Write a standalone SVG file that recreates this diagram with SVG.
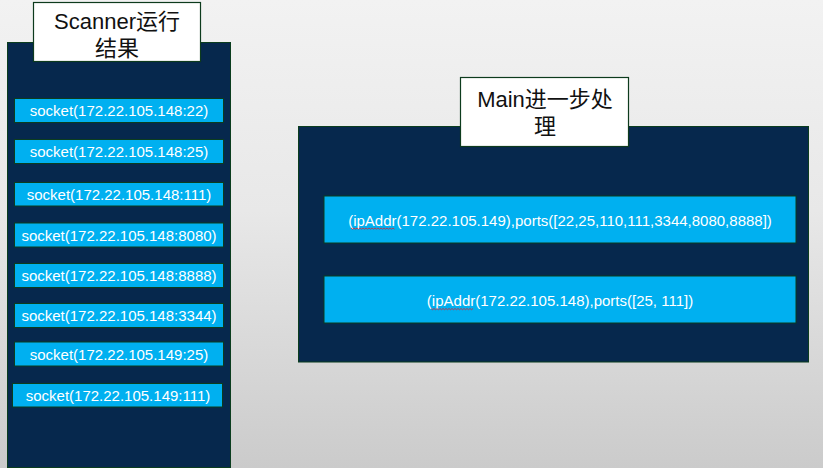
<svg xmlns="http://www.w3.org/2000/svg" width="823" height="468" viewBox="0 0 823 468">
<defs>
<linearGradient id="bg" x1="0" y1="0" x2="0" y2="1">
<stop offset="0" stop-color="#f2f2f2"/>
<stop offset="0.45" stop-color="#e8e8e8"/>
<stop offset="1" stop-color="#cbcbcb"/>
</linearGradient>
<style>
.panel{fill:#06284d;stroke:#0b3d1e;stroke-width:1}
.title{fill:#ffffff;stroke:#0d3b1d;stroke-width:1.2}
.item{fill:#00b0f0;stroke:#0b3d1e;stroke-width:1}
.t{font-family:"Liberation Sans","Noto Sans CJK SC",sans-serif;font-size:22px;fill:#111111;text-anchor:middle}
.s{font-family:"Liberation Sans",Arial,sans-serif;font-size:15px;fill:#ffffff;text-anchor:middle}
.sq{fill:none;stroke:#e0202a;stroke-width:0.8}
</style>
</defs>
<rect x="0" y="0" width="823" height="468" fill="url(#bg)"/>
<g id="scanner-panel">
<rect class="panel" x="7.5" y="42.5" width="223" height="425"/>
</g>
<g id="scanner-title">
<rect class="title" x="33.5" y="2.5" width="167" height="59"/>
<text class="t" x="117" y="28.5">Scanner运行</text>
<text class="t" x="117" y="55.5">结果</text>
</g>
<g id="socket1"><rect class="item" x="14.5" y="98.5" width="209" height="24"/><text class="s" x="119" y="116">socket(172.22.105.148:22)</text></g>
<g id="socket2"><rect class="item" x="14.5" y="139.5" width="209" height="24"/><text class="s" x="119" y="157">socket(172.22.105.148:25)</text></g>
<g id="socket3"><rect class="item" x="14.5" y="182.5" width="209" height="23.5"/><text class="s" x="119" y="199.5">socket(172.22.105.148:111)</text></g>
<g id="socket4"><rect class="item" x="14.5" y="223" width="209" height="24"/><text class="s" x="119" y="240.5">socket(172.22.105.148:8080)</text></g>
<g id="socket5"><rect class="item" x="14.5" y="263.5" width="209" height="24"/><text class="s" x="119" y="281">socket(172.22.105.148:8888)</text></g>
<g id="socket6"><rect class="item" x="14.5" y="303.5" width="209" height="24"/><text class="s" x="119" y="321">socket(172.22.105.148:3344)</text></g>
<g id="socket7"><rect class="item" x="14.5" y="342" width="209" height="24"/><text class="s" x="119" y="359.5">socket(172.22.105.149:25)</text></g>
<g id="socket8"><rect class="item" x="12.5" y="383.5" width="210" height="23.5"/><text class="s" x="118" y="401">socket(172.22.105.149:111)</text></g>
<g id="main-panel">
<rect class="panel" x="298.5" y="126.5" width="510" height="235.5"/>
</g>
<g id="main-title">
<rect class="title" x="460.5" y="77.5" width="168" height="69"/>
<text class="t" x="545" y="107">Main进一步处</text>
<text class="t" x="545" y="134">理</text>
</g>
<g id="result1">
<rect class="item" x="324" y="196" width="472" height="47"/>
<text class="s" x="560" y="225.5">(ipAddr(172.22.105.149),ports([22,25,110,111,3344,8080,8888])</text>
<path class="sq" d="M351,228 l1.5,1.2 l1.5,-1.2 l1.5,1.2 l1.5,-1.2 l1.5,1.2 l1.5,-1.2 l1.5,1.2 l1.5,-1.2 l1.5,1.2 l1.5,-1.2 l1.5,1.2 l1.5,-1.2 l1.5,1.2 l1.5,-1.2 l1.5,1.2 l1.5,-1.2 l1.5,1.2 l1.5,-1.2 l1.5,1.2 l1.5,-1.2 l1.5,1.2 l1.5,-1.2 l1.5,1.2 l1.5,-1.2 l1.5,1.2 l1.5,-1.2 l1.5,1.2 l1.5,-1.2 l1.5,1.2"/>
</g>
<g id="result2">
<rect class="item" x="324" y="276" width="472" height="47"/>
<text class="s" x="560" y="306">(ipAddr(172.22.105.148),ports([25, 111])</text>
<path class="sq" d="M431,308.5 l1.5,1.2 l1.5,-1.2 l1.5,1.2 l1.5,-1.2 l1.5,1.2 l1.5,-1.2 l1.5,1.2 l1.5,-1.2 l1.5,1.2 l1.5,-1.2 l1.5,1.2 l1.5,-1.2 l1.5,1.2 l1.5,-1.2 l1.5,1.2 l1.5,-1.2 l1.5,1.2 l1.5,-1.2 l1.5,1.2 l1.5,-1.2 l1.5,1.2 l1.5,-1.2 l1.5,1.2 l1.5,-1.2 l1.5,1.2 l1.5,-1.2 l1.5,1.2 l1.5,-1.2"/>
</g>
<g id="connectors"></g>
</svg>
